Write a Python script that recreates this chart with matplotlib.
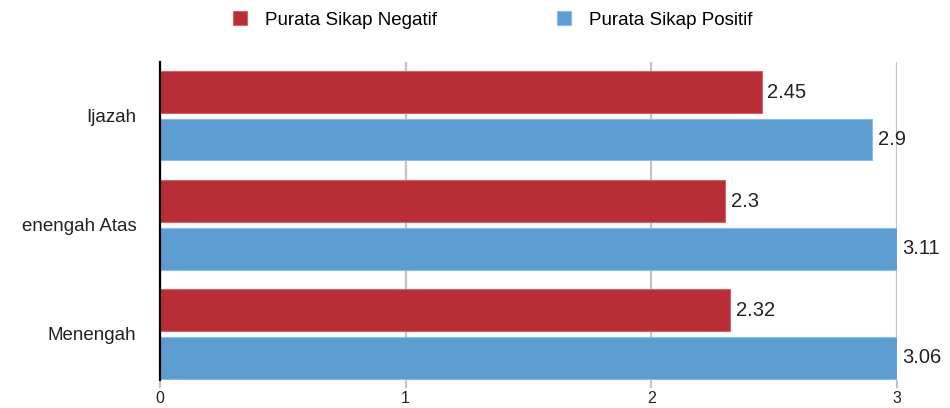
import matplotlib
matplotlib.use("Agg")
import matplotlib.pyplot as plt
from matplotlib.patches import Patch
import numpy as np

# Data
categories = ["Ijazah", "enengah Atas", "Menengah"]
negatif = [2.45, 2.3, 2.32]
positif = [2.9, 3.11, 3.06]
series_names = ["Purata Sikap Negatif", "Purata Sikap Positif"]
x_ticks = [0, 1, 2, 3]

RED = "#B92E36"
BLUE = "#5E9DD2"
RED_EDGE = "#D0646A"
BLUE_EDGE = "#8DBCE4"
GRID = "#C4C4C4"

plt.rcParams["font.family"] = ["Liberation Sans", "DejaVu Sans"]
FS = 13.5

fig = plt.figure(figsize=(9.5, 4.08), dpi=100)
W, H = 950, 408
ax = fig.add_axes([160 / W, (H - 380) / H, (897 - 160) / W, (380 - 62) / H])

y = np.arange(len(categories))
h = 0.385
off = 0.216

ax.barh(y - off, negatif, height=h, color=RED, edgecolor=RED_EDGE, linewidth=0.8, zorder=3)
ax.barh(y + off, positif, height=h, color=BLUE, edgecolor=BLUE_EDGE, linewidth=0.8, zorder=3)

xmax = x_ticks[-1]
ax.set_xlim(0, xmax)
ax.set_ylim(2.422, -0.495)

# Value labels, held at the axis end when a bar runs past it
for yy, vals in ((y - off, negatif), (y + off, positif)):
    for yi, v in zip(yy, vals):
        ax.annotate(f"{v:g}", xy=(min(v, xmax), yi), xytext=(4, 0),
                    textcoords="offset points", va="center", ha="left",
                    fontsize=FS + 1, color="#222222", annotation_clip=False)

ax.set_xticks(x_ticks)
ax.set_xticklabels([str(t) for t in x_ticks], fontsize=11.5, color="#222222")
ax.set_yticks(y)
ax.set_yticklabels(categories, fontsize=FS, color="#222222")

ax.grid(axis="x", color=GRID, linewidth=1.6, zorder=0)
ax.tick_params(axis="x", length=6, width=1.6, color=GRID, pad=2)
ax.tick_params(axis="y", length=0, pad=17)
ax.xaxis.get_major_ticks()[0].tick1line.set_color("black")

for s in ("top", "right", "bottom"):
    ax.spines[s].set_visible(False)
ax.spines["left"].set_color("black")
ax.spines["left"].set_linewidth(1.6)
ax.spines["left"].set_zorder(4)

handles = [Patch(facecolor=RED, edgecolor=RED_EDGE, linewidth=0.8),
           Patch(facecolor=BLUE, edgecolor=BLUE_EDGE, linewidth=0.8)]
fig.legend(handles, series_names, loc="center left",
           bbox_to_anchor=(233 / W, 1 - 20 / H), ncol=2, frameon=False,
           fontsize=FS, handlelength=0.75, handleheight=0.75,
           handletextpad=0.95, columnspacing=6.4, borderpad=0, borderaxespad=0)

fig.savefig("out.png", dpi=100)
